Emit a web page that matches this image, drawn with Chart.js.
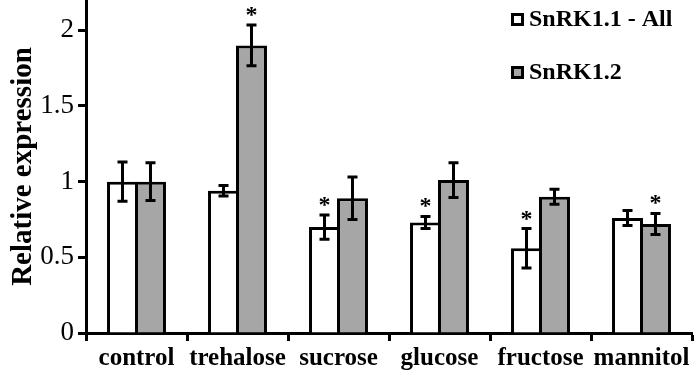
<!DOCTYPE html>
<html>
<head>
<meta charset="utf-8">
<script src="https://cdn.jsdelivr.net/npm/chart.js@4.4.1/dist/chart.umd.min.js"></script>
<style>
html,body{margin:0;padding:0;background:#fff;}
#wrap{width:696px;height:379px;}
</style>
</head>
<body>
<div id="wrap"><canvas id="c" width="696" height="379"></canvas></div>
<script>
const categories = ['control', 'trehalose', 'sucrose', 'glucose', 'fructose', 'mannitol'];
const seriesNames = ['SnRK1.1 - All', 'SnRK1.2'];
const snrk11 = [1.00, 0.94, 0.70, 0.73, 0.56, 0.76];
const snrk12 = [1.00, 1.90, 0.89, 1.01, 0.90, 0.72];
const err11 = [0.13, 0.035, 0.08, 0.04, 0.13, 0.05];
const err12 = [0.125, 0.135, 0.14, 0.115, 0.05, 0.07];
const sig11 = [false, false, true, true, true, false];
const sig12 = [false, true, false, false, false, true];
const yTicks = [0, 0.5, 1, 1.5, 2];
const yMax = 2.2;

const FONT = "'Liberation Serif', 'Times New Roman', serif";
const errs = [err11, err12];
const sigs = [sig11, sig12];
const fills = ['#ffffff', '#a6a6a6'];

const errorPlugin = {
  id: 'errs',
  afterDatasetsDraw(chart) {
    const ctx = chart.ctx;
    const y = chart.scales.y;
    ctx.save();
    ctx.strokeStyle = '#000';
    ctx.lineWidth = 3;
    ctx.fillStyle = '#000';
    chart.data.datasets.forEach((ds, di) => {
      const meta = chart.getDatasetMeta(di);
      meta.data.forEach((bar, i) => {
        const v = ds.data[i], e = errs[di][i];
        const x = bar.x;
        const yt = y.getPixelForValue(v + e);
        const yb = y.getPixelForValue(v - e);
        ctx.beginPath();
        ctx.moveTo(x, yt); ctx.lineTo(x, yb);
        ctx.moveTo(x - 5, yt); ctx.lineTo(x + 5, yt);
        ctx.moveTo(x - 5, yb); ctx.lineTo(x + 5, yb);
        ctx.stroke();
        if (sigs[di][i]) {
          ctx.font = 'bold 24px ' + FONT;
          ctx.textAlign = 'center';
          ctx.textBaseline = 'alphabetic';
          ctx.fillText('*', x, yt - 3);
        }
      });
    });
    // legend
    const lx = 511, rows = [19, 72];
    ctx.font = 'bold 24px ' + FONT;
    ctx.textAlign = 'left';
    ctx.textBaseline = 'middle';
    seriesNames.forEach((name, k) => {
      const cy = rows[k];
      ctx.fillStyle = '#000';
      ctx.fillRect(lx, cy - 6, 13, 13);
      ctx.fillStyle = fills[k];
      ctx.fillRect(lx + 3, cy - 3, 7, 7);
      ctx.fillStyle = '#000';
      ctx.fillText(name, lx + 18, cy + 1);
    });
    ctx.restore();
  }
};

new Chart(document.getElementById('c'), {
  type: 'bar',
  data: {
    labels: categories,
    datasets: [
      { label: seriesNames[0], data: snrk11, backgroundColor: fills[0], borderColor: '#000', borderWidth: 3 },
      { label: seriesNames[1], data: snrk12, backgroundColor: fills[1], borderColor: '#000', borderWidth: 3 }
    ]
  },
  options: {
    responsive: false,
    animation: false,
    devicePixelRatio: 1,
    datasets: { bar: { categoryPercentage: 0.554, barPercentage: 1.107, borderSkipped: 'start' } },
    layout: { padding: { left: 0, right: 4, top: 0, bottom: 0 } },
    plugins: { legend: { display: false }, tooltip: { enabled: false } },
    scales: {
      x: {
        grid: { display: true, drawOnChartArea: false, drawTicks: true, tickLength: 8, tickWidth: 3, tickColor: '#000', offset: true },
        border: { display: true, color: '#000', width: 3 },
        ticks: { color: '#000', font: { family: FONT, size: 25, weight: 'bold' }, padding: 3, maxRotation: 0, autoSkip: false },
        afterFit(s) { s.height = 46; s.paddingLeft = 0; s.paddingRight = 0; }
      },
      y: {
        min: 0, max: yMax,
        afterBuildTicks(s) { s.ticks = yTicks.map(v => ({ value: v })); },
        grid: { display: true, drawOnChartArea: false, drawTicks: true, tickLength: 8, tickWidth: 3, tickColor: '#000' },
        border: { display: true, color: '#000', width: 3 },
        ticks: { color: '#000', font: { family: FONT, size: 27 }, padding: 4, callback: v => String(v) },
        title: { display: true, text: 'Relative expression', color: '#000', font: { family: FONT, size: 29, weight: 'bold' }, padding: { top: 6, bottom: 0 } },
        afterFit(s) { s.width = 86; s.paddingTop = 0; s.paddingBottom = 0; }
      }
    }
  },
  plugins: [errorPlugin]
});
</script>
</body>
</html>
